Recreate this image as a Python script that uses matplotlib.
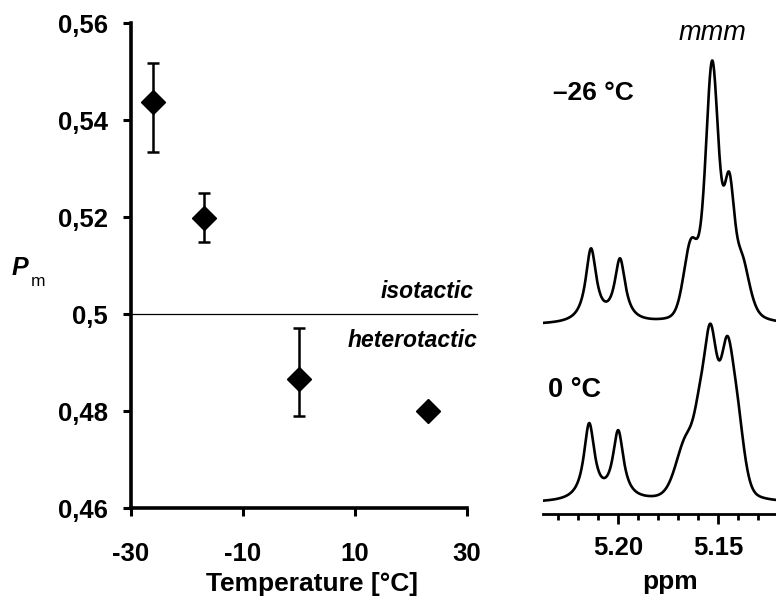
import matplotlib
matplotlib.use("Agg")
import matplotlib.pyplot as plt
from matplotlib.ticker import MultipleLocator
import numpy as np

#-----------------DONNEES-----------------#

# Pm en fonction de la temperature
temperature = [-26, -17, 0, 23]
pm = [0.5437, 0.5198, 0.4865, 0.4800]
pm_err_bas = [0.0102, 0.0050, 0.0076, 0.0]
pm_err_haut = [0.0081, 0.0052, 0.0106, 0.0]

y_ticks = [0.46, 0.48, 0.50, 0.52, 0.54, 0.56]
y_labels = ["0,46", "0,48", "0,5", "0,52", "0,54", "0,56"]
x_ticks = [-30, -10, 10, 30]
x_labels = ["-30", "-10", "10", "30"]

# spectres RMN : raies pseudo-Voigt
# (position ppm, hauteur, largeur a mi-hauteur ppm, part lorentzienne)
top_pos = [5.2135, 5.1990, 5.1635, 5.1529, 5.1444, 5.1380]
top_height = [73, 62, 70, 255, 111, 55]
top_fwhm = [0.0065, 0.0065, 0.0085, 0.0080, 0.0060, 0.0090]
top_eta = [1.0, 1.0, 0.2, 0.4, 0.3, 0.5]

bot_pos = [5.2144, 5.1999, 5.1660, 5.1595, 5.1538, 5.1455, 5.1400]
bot_height = [76, 68, 55, 45, 151, 133, 60]
bot_fwhm = [0.0065, 0.0065, 0.0120, 0.0070, 0.0080, 0.0080, 0.0080]
bot_eta = [1.0, 1.0, 0.3, 0.3, 0.3, 0.3, 0.3]

top_offset = 189
bot_offset = 11

ppm_ticks = [5.20, 5.15]
ppm_labels = ["5.20", "5.15"]

#-----------------FONCTIONS-----------------#

def spectre(x, pos, haut, larg, eta):
    y = np.zeros_like(x)
    for p, h, w, e in zip(pos, haut, larg, eta):
        u = 4 * ((x - p) / w) ** 2
        y += h * (e / (1 + u) + (1 - e) * np.exp(-np.log(2) * u))
    return y

#-----------------FIGURE-----------------#

plt.rcParams["font.family"] = ["Liberation Sans", "DejaVu Sans"]
W, H = 776, 596
fig = plt.figure(figsize=(W / 100, H / 100), dpi=100)

# panneau gauche
ax = fig.add_axes([131 / W, 1 - 508 / H, 336 / W, 485 / H])
ax.set_xlim(-30, 30)
ax.set_ylim(0.46, 0.56)
ax.errorbar(temperature, pm, yerr=[pm_err_bas, pm_err_haut], fmt="none",
            ecolor="black", elinewidth=1.8, capsize=4.5, capthick=1.8,
            zorder=2)
ax.plot(temperature, pm, "D", color="black", markersize=12.5, zorder=3)
ax.axhline(0.5, xmin=0, xmax=61.8 / 60, color="black", lw=0.9, clip_on=False)

ax.set_yticks(y_ticks)
ax.set_yticklabels(y_labels)
ax.set_xticks(x_ticks)
ax.set_xticklabels(x_labels)
for s in ["top", "right"]:
    ax.spines[s].set_visible(False)
for s in ["left", "bottom"]:
    ax.spines[s].set_linewidth(2.6)
ax.tick_params(axis="both", direction="out", length=5.5, width=2.2,
               labelsize=18.5)
ax.tick_params(axis="y", pad=11)
ax.tick_params(axis="x", pad=19)
for lab in ax.get_xticklabels() + ax.get_yticklabels():
    lab.set_fontweight("bold")

ax.text(31.25, 0.5047, "isotactic", ha="right", va="center", fontsize=16.5,
        fontweight="bold", fontstyle="italic")
ax.text(31.8, 0.4946, "heterotactic", ha="right", va="center", fontsize=16.5,
        fontweight="bold", fontstyle="italic")

fig.text(311.7 / W, 1 - 591 / H, "Temperature [°C]", ha="center",
         va="baseline", fontsize=19, fontweight="bold")
fig.text(12 / W, 1 - 268 / H, "P", ha="left", va="center", fontsize=18,
         fontweight="bold", fontstyle="italic")
fig.text(31 / W, 1 - 282 / H, "m", ha="left", va="center", fontsize=12.5)

# panneau droit : spectres
ax2 = fig.add_axes([543 / W, 1 - 514 / H, 233 / W, 514 / H])
ax2.set_xlim(5.2375, 5.121)
ax2.set_ylim(0, 514)
x = np.linspace(5.2375, 5.121, 800)
ax2.plot(x, top_offset + spectre(x, top_pos, top_height, top_fwhm, top_eta),
         color="black", lw=1.9)
ax2.plot(x, bot_offset + spectre(x, bot_pos, bot_height, bot_fwhm, bot_eta),
         color="black", lw=1.9)

for s in ["top", "right", "left"]:
    ax2.spines[s].set_visible(False)
ax2.spines["bottom"].set_linewidth(2)
ax2.set_yticks([])
ax2.set_xticks(ppm_ticks)
ax2.set_xticklabels(ppm_labels)
ax2.xaxis.set_minor_locator(MultipleLocator(0.01))
ax2.tick_params(axis="x", which="major", direction="out", length=7.5,
                width=2, labelsize=18.5, pad=8)
ax2.tick_params(axis="x", which="minor", direction="out", length=4, width=2)
for lab in ax2.get_xticklabels():
    lab.set_fontweight("bold")

ax2.text(top_pos[3], 481, "mmm", ha="center", va="center", fontsize=19.5,
         fontstyle="italic")
ax2.text(5.2325, 421, "\u201326 °C", ha="left", va="center", fontsize=19,
         fontweight="bold")
ax2.text(5.235, 124, "0 °C", ha="left", va="center", fontsize=19.5,
         fontweight="bold")

fig.text(670 / W, 1 - 589 / H, "ppm", ha="center", va="baseline",
         fontsize=19, fontweight="bold")

fig.savefig("out.png", dpi=100)
